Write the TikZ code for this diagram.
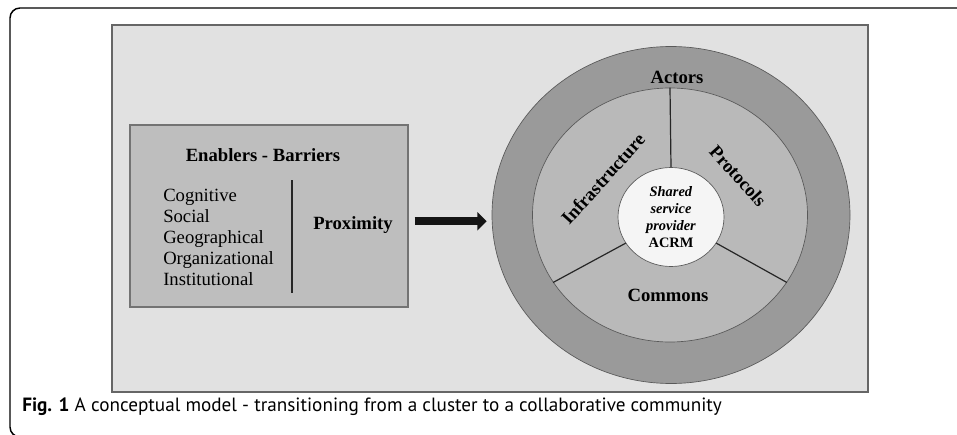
\documentclass[tikz,border=0pt]{standalone}
\usepackage{fontspec}
\setmainfont{Liberation Serif}
\newfontfamily\capfont{PT Sans}
\usepackage{tikz}
\usetikzlibrary{arrows.meta,positioning,calc,shapes.geometric}
\definecolor{fond}{HTML}{E1E1E1}
\definecolor{boite}{HTML}{BEBEBE}
\definecolor{acteurs}{HTML}{9A9A9A}
\definecolor{anneau}{HTML}{B9B9B9}
\definecolor{noyau}{HTML}{F5F5F5}
\tikzset{
  ring/.style={ellipse, draw=black!65, line width=0.5pt, fill=#1, inner sep=0pt},
  lab/.style={font=\fontsize{14}{16}\selectfont\bfseries, inner sep=0pt},
  divider/.style={line width=0.9pt, draw=black!85},
  bigarrow/.style={-{Triangle[width=13.5pt,length=7pt]}, line width=6pt, draw=black!92},
}

\begin{document}
\begin{tikzpicture}[x=0.75pt, y=-0.75pt]
    \useasboundingbox (0,0) rectangle (957,435);
    \clip (0,0) rectangle (957,435);
    % frame and background
    \draw[line width=1.1pt, rounded corners=7.5pt] (10,8) rectangle (975,437);
    \draw[fill=fond, draw=black!60, line width=1.1pt] (112,25) rectangle (868,392);
    % left box
    \node[rectangle, draw=black!55, line width=0.8pt, fill=boite,
          minimum width=208.5pt, minimum height=136.5pt] (enab) at (269,216) {};
    \node[lab] (title) at (263,155) {Enablers - Barriers};
    \node[anchor=west, align=left, inner sep=0pt,
          font=\fontsize{14}{15.75}\selectfont] (kinds) at (163,237)
          {Cognitive\\Social\\Geographical\\Organizational\\Institutional};
    \coordinate (sepa) at (292,180);
    \coordinate (sepb) at (292,293);
    \draw[divider] (sepa) -- (sepb);
    \node[lab] (prox) at (353,225) {Proximity};
    % community
    \node[ring=acteurs, minimum width=268.5pt, minimum height=252.75pt] (actring) at (671,215) {};
    \node[ring=anneau, minimum width=206.25pt, minimum height=190.5pt] (mid) at (670,215) {};
    \node[ring=noyau, minimum width=79.5pt, minimum height=74.25pt, align=center,
          font=\fontsize{10.8}{12.75}\selectfont\bfseries] (core) at (671,217)
          {\textit{Shared}\\\textit{service}\\\textit{provider}\\ACRM};
    \draw[divider] (core.90) -- (mid.90);
    \draw[divider] (core.-30) -- (mid.-30);
    \draw[divider] (core.210) -- (mid.210);
    \node[lab] (actors) at (677,77) {Actors};
    \node[lab, rotate=48] (infra) at (603,179) {Infrastructure};
    \node[lab, rotate=-48] (proto) at (738,176) {Protocols};
    \node[lab] (commons) at (668,295) {Commons};
    % arrow
    \draw[bigarrow, shorten <=4.5pt, shorten >=3.75pt]
      ([yshift=-4pt]enab.east) -- ([yshift=-4pt]enab.east -| actring.west);
    % caption
    \node[anchor=base west, inner sep=0pt, font=\capfont\fontsize{14.4}{16}\selectfont]
      (caption) at (22,411) {\textbf{Fig. 1} A conceptual model - transitioning from a cluster to a collaborative community};
  \end{tikzpicture}
\end{document}
